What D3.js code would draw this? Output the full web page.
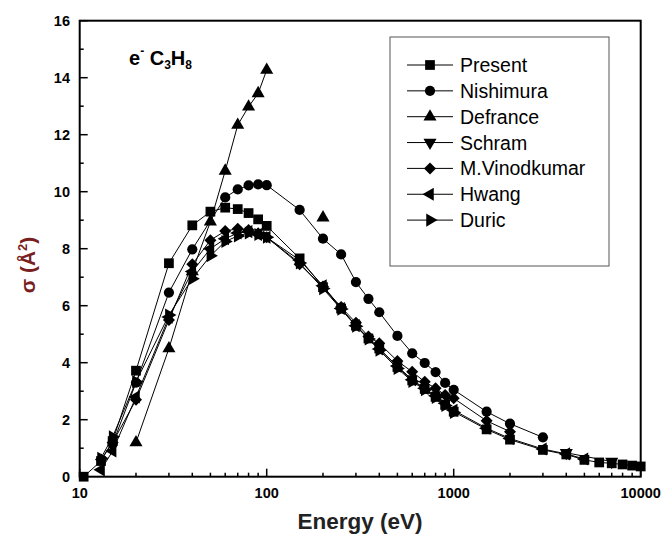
<!DOCTYPE html>
<html>
<head>
<meta charset="utf-8">
<script src="https://cdn.jsdelivr.net/npm/d3@7"></script>
<style>
  body { margin: 0; background: #fff; }
  svg { display: block; font-family: Arial, "Liberation Sans", sans-serif; }
</style>
</head>
<body>
<div id="plot_chart"></div>
<script>
// energies (eV) and cross sections (A^2)
var presentE = [10.5, 13, 15, 20, 30, 40, 50, 60, 70, 80, 90, 100, 150, 200, 250, 300, 350, 400, 500, 600, 700, 800, 900, 1000, 1500, 2000, 3000, 4000, 5000, 6000, 7000, 8000, 9000, 10000];
var presentS = [0.0, 0.55, 1.25, 3.72, 7.49, 8.82, 9.3, 9.44, 9.39, 9.25, 9.03, 8.8, 7.66, 6.65, 5.9, 5.3, 4.85, 4.5, 3.85, 3.38, 3.08, 2.8, 2.52, 2.28, 1.66, 1.3, 0.94, 0.78, 0.59, 0.5, 0.47, 0.43, 0.39, 0.36];

var nishE = [15, 20, 30, 40, 60, 70, 80, 90, 100, 150, 200, 250, 300, 350, 400, 500, 600, 700, 800, 900, 1000, 1500, 2000, 3000];
var nishS = [1.15, 3.3, 6.46, 7.98, 9.8, 10.08, 10.22, 10.26, 10.23, 9.36, 8.35, 7.8, 6.83, 6.24, 5.77, 4.94, 4.33, 3.99, 3.67, 3.29, 3.05, 2.28, 1.86, 1.38];

var defrE = [20, 30, 40, 50, 60, 70, 80, 90, 100, 150, 200];
var defrS = [1.2, 4.5, 7.2, 8.95, 10.73, 12.34, 12.98, 13.45, 14.27, null, 9.09];

var schramE = [4000, 7000];
var schramS = [0.84, 0.53];

var vinodE = [13, 15, 20, 30, 40, 50, 60, 70, 80, 90, 100, 150, 200, 250, 300, 350, 400, 500, 600, 700, 800, 900, 1000, 1500, 2000];
var vinodS = [0.6, 1.2, 2.7, 5.5, 7.45, 8.3, 8.62, 8.7, 8.66, 8.54, 8.4, 7.45, 6.67, 5.95, 5.4, 4.92, 4.68, 4.06, 3.68, 3.33, 3.1, 2.87, 2.75, 1.96, 1.58];

var hwangE = [13, 15, 20, 30, 40, 50, 60, 70, 80, 90, 100, 150, 200, 250, 300, 400, 500, 600, 700, 800, 900, 1000, 1500, 2000, 3000, 4000, 5000];
var hwangS = [0.24, 0.9, 2.8, 5.6, 7.2, 8.0, 8.35, 8.55, 8.6, 8.5, 8.4, 7.6, 6.7, 5.9, 5.3, 4.48, 3.88, 3.4, 3.1, 2.84, 2.58, 2.33, 1.7, 1.34, 0.97, 0.8, 0.62];

var duricE = [13, 15, 20, 30, 40, 50, 60, 70, 80, 90, 100, 150, 200, 250, 300, 350, 400, 500, 600, 700, 800, 900, 1000];
var duricS = [0.65, 1.4, 3.33, 5.67, 6.95, 7.75, 8.25, 8.45, 8.55, 8.5, 8.4, 7.5, 6.6, 5.88, 5.28, 4.83, 4.44, 3.8, 3.34, 3.05, 2.78, 2.5, 2.25];

var seriesNames = ['Present', 'Nishimura', 'Defrance', 'Schram', 'M.Vinodkumar', 'Hwang', 'Duric'];
var xTicks = [10, 100, 1000, 10000];
var yTicks = [0, 2, 4, 6, 8, 10, 12, 14, 16];

var series = [
  { name: seriesNames[0], e: presentE, s: presentS, shape: 'square' },
  { name: seriesNames[1], e: nishE, s: nishS, shape: 'circle' },
  { name: seriesNames[2], e: defrE, s: defrS, shape: 'up' },
  { name: seriesNames[3], e: schramE, s: schramS, shape: 'down' },
  { name: seriesNames[4], e: vinodE, s: vinodS, shape: 'diamond' },
  { name: seriesNames[5], e: hwangE, s: hwangS, shape: 'left' },
  { name: seriesNames[6], e: duricE, s: duricS, shape: 'right' }
];

var W = 662, H = 543;
var x = d3.scaleLog().domain([10, 10000]).range([79.7, 640.7]);
var y = d3.scaleLinear().domain([0, 16]).range([476.7, 20.7]);

var svg = d3.select('#plot_chart').append('svg').attr('width', W).attr('height', H);

function symPath(shape, k) {
  var t, size;
  if (shape == 'square') { t = d3.symbolSquare; size = 95 * k; }
  else if (shape == 'circle') { t = d3.symbolCircle; size = 82 * k; }
  else if (shape == 'diamond') { t = d3.symbolSquare; size = 72 * k; }
  else { t = d3.symbolTriangle; size = 74 * k; }
  return d3.symbol().type(t).size(size)();
}
function symRot(shape) {
  if (shape == 'down') return 180;
  if (shape == 'diamond') return 45;
  if (shape == 'left') return -90;
  if (shape == 'right') return 90;
  return 0;
}

// lines
var line = d3.line()
  .defined(function(d) { return d.s != null; })
  .x(function(d) { return x(d.e); })
  .y(function(d) { return y(d.s); });

series.forEach(function(sr) {
  var pts = sr.e.map(function(e, i) { return { e: e, s: sr.s[i] }; });
  svg.append('path').datum(pts)
    .attr('d', line)
    .attr('fill', 'none')
    .attr('stroke', '#000')
    .attr('stroke-width', 1);
  sr.pts = pts;
});

// markers
series.forEach(function(sr) {
  svg.append('g').selectAll('path')
    .data(sr.pts.filter(function(d) { return d.s != null; }))
    .enter().append('path')
    .attr('d', symPath(sr.shape, 1))
    .attr('transform', function(d) { return 'translate(' + x(d.e) + ',' + y(d.s) + ') rotate(' + symRot(sr.shape) + ')'; })
    .attr('fill', '#000');
});

// frame
svg.append('rect')
  .attr('x', x(10)).attr('y', y(16))
  .attr('width', x(10000) - x(10)).attr('height', y(0) - y(16))
  .attr('fill', 'none').attr('stroke', '#000').attr('stroke-width', 2);

// x ticks (inward)
var xMinor = [];
[10, 100, 1000].forEach(function(d) { for (var m = 2; m <= 9; m++) xMinor.push(d * m); });
svg.append('g').selectAll('line').data(xTicks).enter().append('line')
  .attr('x1', function(d) { return x(d); }).attr('x2', function(d) { return x(d); })
  .attr('y1', y(0)).attr('y2', y(0) - 8)
  .attr('stroke', '#000').attr('stroke-width', 1.5);
svg.append('g').selectAll('line').data(xMinor).enter().append('line')
  .attr('x1', function(d) { return x(d); }).attr('x2', function(d) { return x(d); })
  .attr('y1', y(0)).attr('y2', y(0) - 4)
  .attr('stroke', '#000').attr('stroke-width', 1.5);
svg.append('g').selectAll('text').data(xTicks).enter().append('text')
  .attr('x', function(d) { return x(d); }).attr('y', 498)
  .attr('text-anchor', 'middle')
  .attr('font-size', 14.5).attr('font-weight', 'bold')
  .text(function(d) { return d; });

// y ticks
var yMinor = d3.range(1, 16, 2);
svg.append('g').selectAll('line').data(yTicks).enter().append('line')
  .attr('x1', x(10)).attr('x2', x(10) + 8)
  .attr('y1', function(d) { return y(d); }).attr('y2', function(d) { return y(d); })
  .attr('stroke', '#000').attr('stroke-width', 1.5);
svg.append('g').selectAll('line').data(yMinor).enter().append('line')
  .attr('x1', x(10)).attr('x2', x(10) + 4)
  .attr('y1', function(d) { return y(d); }).attr('y2', function(d) { return y(d); })
  .attr('stroke', '#000').attr('stroke-width', 1.5);
svg.append('g').selectAll('text').data(yTicks).enter().append('text')
  .attr('x', 70).attr('y', function(d) { return y(d) + 5; })
  .attr('text-anchor', 'end')
  .attr('font-size', 14.5).attr('font-weight', 'bold')
  .text(function(d) { return d; });

// axis titles
svg.append('text')
  .attr('x', 360).attr('y', 529)
  .attr('text-anchor', 'middle')
  .attr('font-size', 22.5).attr('font-weight', 'bold').attr('fill', '#222')
  .text('Energy (eV)');

var yl = svg.append('text')
  .attr('transform', 'translate(35,265) rotate(-90)')
  .attr('text-anchor', 'middle')
  .attr('font-size', 21).attr('font-weight', 'bold').attr('fill', '#7a1f1f');
yl.append('tspan').text('\u03c3 (\u00c5');
yl.append('tspan').attr('font-size', 13).attr('dy', -8).text('2');
yl.append('tspan').attr('dy', 8).text(')');

// annotation
var ann = svg.append('text')
  .attr('x', 129).attr('y', 65)
  .attr('font-size', 20).attr('font-weight', 'bold');
ann.append('tspan').text('e');
ann.append('tspan').attr('font-size', 12).attr('dy', -10).text('-');
ann.append('tspan').attr('dy', 10).text(' C');
ann.append('tspan').attr('font-size', 12).attr('dy', 4).text('3');
ann.append('tspan').attr('dy', -4).text('H');
ann.append('tspan').attr('font-size', 12).attr('dy', 4).text('8');

// legend
svg.append('rect')
  .attr('x', 390).attr('y', 37).attr('width', 219).attr('height', 229)
  .attr('fill', '#fff').attr('stroke', '#555').attr('stroke-width', 1);
var leg = svg.append('g').selectAll('g').data(series).enter().append('g')
  .attr('transform', function(d, i) { return 'translate(0,' + (65 + i * 25.85) + ')'; });
leg.append('line')
  .attr('x1', 407).attr('x2', 453).attr('y1', 0).attr('y2', 0)
  .attr('stroke', '#000').attr('stroke-width', 1);
leg.append('path')
  .attr('d', function(d) { return symPath(d.shape, 1); })
  .attr('transform', function(d) { return 'translate(430,0) rotate(' + symRot(d.shape) + ')'; })
  .attr('fill', '#000');
leg.append('text')
  .attr('x', 460).attr('y', 7)
  .attr('font-size', 19.5)
  .text(function(d) { return d.name; });
</script>
</body>
</html>
